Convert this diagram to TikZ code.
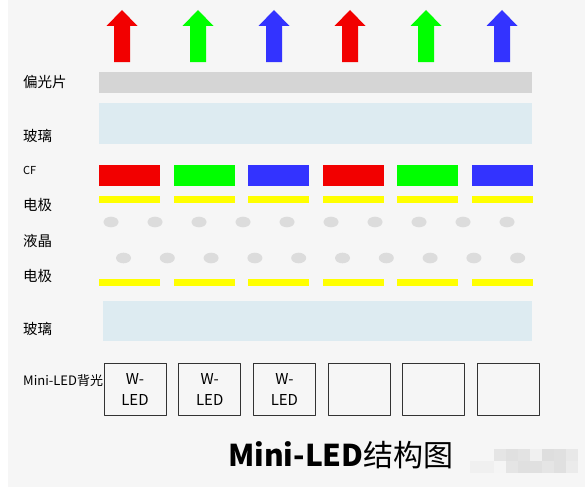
\documentclass[tikz,border=0pt]{standalone}
\usepackage{fontspec}
\newfontfamily\cjk{Noto Sans CJK SC}
\definecolor{bgray}{HTML}{F6F6F6}
\definecolor{polgray}{HTML}{D5D5D5}
\definecolor{glassblue}{HTML}{DDEBF1}
\definecolor{lcred}{RGB}{242,0,0}
\definecolor{lcgreen}{RGB}{0,255,0}
\definecolor{lcblue}{RGB}{51,51,255}
\definecolor{lcyellow}{RGB}{255,255,0}
\definecolor{lcdot}{HTML}{DCDCDC}
\tikzset{
  layerlabel/.style={anchor=west, inner sep=0pt, font=\cjk\fontsize{14.5}{16}\selectfont},
  ledbox/.style={draw=black!80, line width=0.9pt, minimum width=62pt, minimum height=52pt, inner sep=0pt, align=center, font=\cjk\fontsize{15}{21}\selectfont},
}
\begin{document}
\begin{tikzpicture}[x=1pt, y=-1pt, line join=round, line cap=round]
			\useasboundingbox (0,0) rectangle (585,487);
			\fill[bgray] (8,0) rectangle (585,487);
			% light arrows
			\foreach \c [count=\i from 0] in {lcred,lcgreen,lcblue,lcred,lcgreen,lcblue}
				\fill[\c] ({122+76*\i},10) -- ++(15.5,16) -- ++(-7.5,0) -- ++(0,36) -- ++(-16,0) -- ++(0,-36) -- ++(-7.5,0) -- cycle;
			% polariser and glass
			\fill[polgray] (99,72) rectangle (532,93);
			\fill[glassblue] (99,103) rectangle (532,144);
			% colour filter and electrodes
			\foreach \c [count=\i from 0] in {lcred,lcgreen,lcblue,lcred,lcgreen,lcblue} {
				\fill[\c] ({99+74.6*\i},165) rectangle ++(61,21);
				\fill[lcyellow] ({99+74.6*\i},196) rectangle ++(61,7);
				\fill[lcyellow] ({99+74.6*\i},279) rectangle ++(61,7);
			}
			% liquid crystal
			\foreach \i in {0,...,9} {
				\fill[lcdot] ({111+44*\i},222) ellipse (7.5 and 5.3);
				\fill[lcdot] ({123.5+43.8*\i},258) ellipse (7.5 and 5.3);
			}
			\fill[glassblue] (103,301) rectangle (532,341);
			% backlight
			\foreach \i in {0,1,2}
				\node[ledbox] (led\i) at ({135+74.7*\i},389) {W-\\LED};
			\foreach \i in {3,4,5}
				\node[ledbox] (led\i) at ({135+74.7*\i},389) {};
			\node[layerlabel] (pol) at (23,82) {偏光片};
			\node[layerlabel] (gla1) at (23,136) {玻璃};
			\node[layerlabel, font=\cjk\fontsize{11}{12}\selectfont] (cf) at (23,170) {CF};
			\node[layerlabel] (ele1) at (23,205) {电极};
			\node[layerlabel] (lc) at (23,241) {液晶};
			\node[layerlabel] (ele2) at (23,276) {电极};
			\node[layerlabel] (gla2) at (23,329) {玻璃};
			\node[layerlabel, font=\cjk\fontsize{13}{14}\selectfont] (bl) at (23,381) {Mini-LED背光};
			\node[inner sep=0pt, font=\cjk\fontsize{30}{32}\selectfont] (title) at (341,455) {\textbf{Mini-LED}结构图};
			% blurred mark
			\foreach \x/\g in {470/6,482/6,494/4,506/10,518/12,530/12,542/10,554/12,566/8}
				\fill[black!\g] (\x,461) rectangle ++(12,12);
			\foreach \x/\g in {494/10,506/12,518/11,530/6,542/13,554/12,566/9}
				\fill[black!\g] (\x,449) rectangle ++(12,12);
		\end{tikzpicture}
\end{document}
